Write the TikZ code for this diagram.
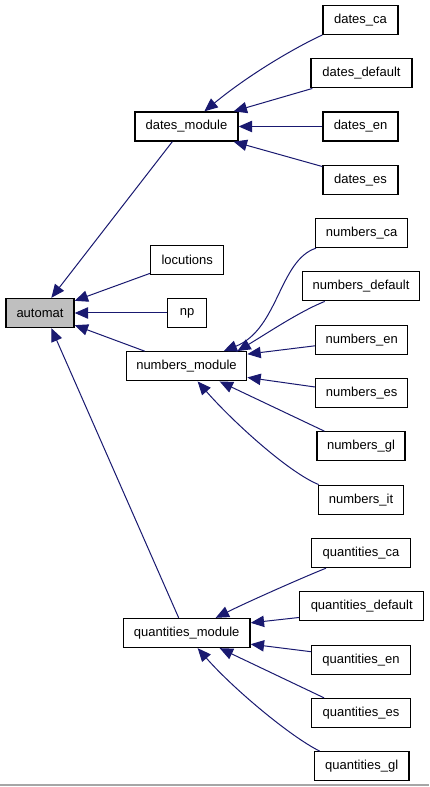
\documentclass[tikz,border=0pt]{standalone}
\usepackage{fontspec}
\setmainfont{Liberation Sans}
\usetikzlibrary{arrows.meta,calc}
\definecolor{edgeblue}{HTML}{191970}
\definecolor{rootfill}{HTML}{BFBFBF}
\begin{document}
\begin{tikzpicture}[x=0.75pt,y=-0.75pt,
  box/.style={draw=black, line width=1pt, fill=white, inner sep=0pt,
    minimum width={#1*0.75pt}, minimum height=21.75pt,
    font=\fontsize{9.75pt}{11pt}\selectfont},
  rootbox/.style={box=#1, fill=rootfill},
  dep/.style={draw=edgeblue, line width=0.75pt,
    -{Triangle[length=10pt,width=8.5pt]}, color=edgeblue}]
\useasboundingbox (0,0) rectangle (429,787);
\fill[white] (0,0) rectangle (429,787);
\draw[gray!70, line width=0.9pt] (0,785) -- (429,785);

% root
\node[rootbox=68] (automat) at (40,313) {automat};

% modules and leaves
\node[box=103] (dmod) at (186.5,126.5) {dates\_module};
\node[box=73]  (loc)  at (187.2,259.7) {locutions};
\node[box=39]  (np)   at (187.2,313)   {np};
\node[box=120.4] (nmod) at (186.5,366.3) {numbers\_module};
\node[box=126.7] (qmod) at (186.7,633)   {quantities\_module};

% dates
\node[box=75]  (dca)  at (360.5,19.8)  {dates\_ca};
\node[box=101] (ddef) at (361.5,73.3)  {dates\_default};
\node[box=75]  (den)  at (360.5,126.5) {dates\_en};
\node[box=75]  (des)  at (360.5,179.7) {dates\_es};

% numbers
\node[box=92]    (nca)  at (361.7,233)   {numbers\_ca};
\node[box=117.4] (ndef) at (361,286.3)   {numbers\_default};
\node[box=92]    (nen)  at (361.7,339.8) {numbers\_en};
\node[box=92]    (nes)  at (361.7,393)   {numbers\_es};
\node[box=88]    (ngl)  at (361,446.3)   {numbers\_gl};
\node[box=85.4]  (nit)  at (361,499.7)   {numbers\_it};

% quantities
\node[box=98.6] (qca)  at (361,553)     {quantities\_ca};
\node[box=124]  (qdef) at (361.7,606.3) {quantities\_default};
\node[box=98.6] (qen)  at (361,659.7)   {quantities\_en};
\node[box=98.6] (qes)  at (361,713)     {quantities\_es};
\node[box=94.7] (qgl)  at (361.7,766.3) {quantities\_gl};

% edges into automat
\draw[dep] ($(dmod.south west)+(38,0)$) -- ($(automat.north west)+(46,0)$);
\draw[dep] ($(loc.south west)+(0,-1.5)$) -- ($(automat.north east)+(0,3)$);
\draw[dep] (np.west) -- (automat.east);
\draw[dep] ($(nmod.north west)+(19,0)$) -- ($(automat.south east)+(0,-3)$);
\draw[dep] ($(qmod.north west)+(56,0)$) -- ($(automat.south west)+(46,0)$);

% dates edges
\draw[dep] (dca.south west) .. controls +(-28,13) and +(45,-37) .. ($(dmod.north west)+(70,0)$);
\draw[dep] ($(ddef.south west)+(2,0)$) -- ($(dmod.north east)+(-5,0)$);
\draw[dep] (den.west) -- (dmod.east);
\draw[dep] ($(des.north west)+(0,2)$) -- ($(dmod.south east)+(-5,0)$);

% numbers edges
\draw[dep] ($(nca.south west)+(1,0)$) .. controls +(-37,12) and +(55,-22) .. ($(nmod.north west)+(98,0)$);
\draw[dep] ($(ndef.south west)+(23,0)$) .. controls +(-25,10) and +(30,-18) .. ($(nmod.north east)+(-10,0)$);
\draw[dep] ($(nen.west)+(0,6)$) -- ($(nmod.north east)+(0,3)$);
\draw[dep] ($(nes.west)+(0,-6)$) -- ($(nmod.south east)+(0,-4)$);
\draw[dep] ($(ngl.north west)+(8,0)$) -- ($(nmod.south west)+(94,0)$);
\draw[dep] ($(nit.north west)+(1,0)$) .. controls +(-30,-12) and +(35,40) .. ($(nmod.south west)+(72,0)$);

% quantities edges
\draw[dep] ($(qca.south west)+(15,0)$) .. controls +(-25,10) and +(30,-15) .. ($(qmod.north west)+(93,0)$);
\draw[dep] ($(qdef.south west)+(0,-4)$) -- ($(qmod.north east)+(0,5)$);
\draw[dep] ($(qen.west)+(0,-8)$) -- ($(qmod.south east)+(0,-4)$);
\draw[dep] ($(qes.north west)+(13,0)$) -- ($(qmod.south west)+(97,0)$);
\draw[dep] ($(qgl.north west)+(6,0)$) .. controls +(-30,-15) and +(35,40) .. ($(qmod.south west)+(75,0)$);
\end{tikzpicture}
\end{document}
